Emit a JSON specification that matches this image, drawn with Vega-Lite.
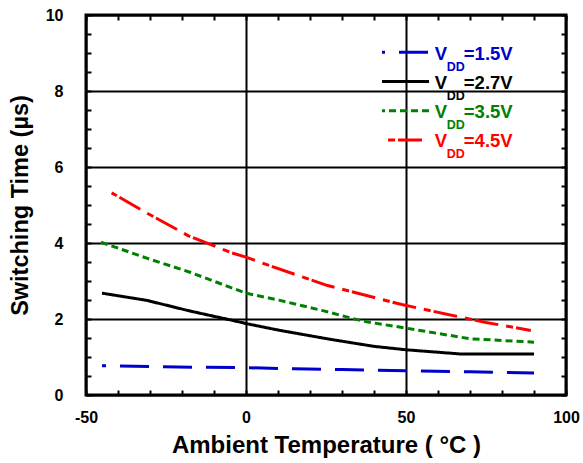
{
  "$schema": "https://vega.github.io/schema/vega-lite/v6.json",
  "width": 480,
  "height": 380,
  "autosize": "none",
  "padding": {"left": 86, "top": 15, "right": 17, "bottom": 68},
  "background": "white",
  "config": {
    "view": {"stroke": "black", "strokeWidth": 3},
    "font": "Liberation Sans"
  },
  "datasets": {
    "curves": [
      {"series": "1.5V", "t": -45, "v": 0.77},
      {"series": "1.5V", "t": -30, "v": 0.75},
      {"series": "1.5V", "t": -15, "v": 0.73},
      {"series": "1.5V", "t": 0, "v": 0.72},
      {"series": "1.5V", "t": 15, "v": 0.69},
      {"series": "1.5V", "t": 30, "v": 0.67},
      {"series": "1.5V", "t": 50, "v": 0.64},
      {"series": "1.5V", "t": 70, "v": 0.61},
      {"series": "1.5V", "t": 90, "v": 0.58},
      {"series": "2.7V", "t": -45, "v": 2.68},
      {"series": "2.7V", "t": -31, "v": 2.49},
      {"series": "2.7V", "t": -17.5, "v": 2.21},
      {"series": "2.7V", "t": -4, "v": 1.96},
      {"series": "2.7V", "t": 0, "v": 1.88},
      {"series": "2.7V", "t": 10.6, "v": 1.7},
      {"series": "2.7V", "t": 26, "v": 1.47},
      {"series": "2.7V", "t": 40, "v": 1.28},
      {"series": "2.7V", "t": 50, "v": 1.19},
      {"series": "2.7V", "t": 67, "v": 1.08},
      {"series": "2.7V", "t": 90, "v": 1.08},
      {"series": "3.5V", "t": -45.3, "v": 4.02},
      {"series": "3.5V", "t": -31, "v": 3.6},
      {"series": "3.5V", "t": -17.5, "v": 3.23},
      {"series": "3.5V", "t": -4.5, "v": 2.82},
      {"series": "3.5V", "t": 0, "v": 2.68},
      {"series": "3.5V", "t": 10.6, "v": 2.49},
      {"series": "3.5V", "t": 24, "v": 2.22},
      {"series": "3.5V", "t": 36.7, "v": 1.94},
      {"series": "3.5V", "t": 50, "v": 1.76},
      {"series": "3.5V", "t": 70, "v": 1.48},
      {"series": "3.5V", "t": 90, "v": 1.39},
      {"series": "4.5V", "t": -42, "v": 5.32},
      {"series": "4.5V", "t": -31, "v": 4.79},
      {"series": "4.5V", "t": -18, "v": 4.19},
      {"series": "4.5V", "t": -4.5, "v": 3.74},
      {"series": "4.5V", "t": 0, "v": 3.63},
      {"series": "4.5V", "t": 8.5, "v": 3.37},
      {"series": "4.5V", "t": 25.5, "v": 2.88},
      {"series": "4.5V", "t": 48.7, "v": 2.38},
      {"series": "4.5V", "t": 62, "v": 2.14},
      {"series": "4.5V", "t": 75, "v": 1.91},
      {"series": "4.5V", "t": 89, "v": 1.7}
    ],
    "legend": [
      {"series": "1.5V", "label": "=1.5V"},
      {"series": "2.7V", "label": "=2.7V"},
      {"series": "3.5V", "label": "=3.5V"},
      {"series": "4.5V", "label": "=4.5V"}
    ]
  },
  "layer": [
    {
      "data": {"name": "curves"},
      "transform": [{"filter": {"field": "series", "oneOf": ["1.5V", "2.7V"]}}],
      "mark": {"type": "line", "strokeWidth": 3, "strokeDashOffset": 25},
      "encoding": {
        "x": {"field": "t", "type": "quantitative", "scale": {"domain": [-50, 100], "nice": false},
          "axis": {"orient": "bottom", "values": [-50,-40,-30,-20,-10,0,10,20,30,40,50,60,70,80,90,100],
            "domain": false, "tickSize": -5, "tickWidth": 2, "tickColor": "black",
            "labelExpr": "datum.value % 50 === 0 ? '' + datum.value : ''", "labelOverlap": false, "labelFlush": false,
            "labelFont": "Liberation Sans", "labelFontSize": 16, "labelFontWeight": "bold", "labelColor": "black", "labelPadding": 19,
            "grid": true, "gridColor": "black", "gridWidth": 2,
            "gridOpacity": {"condition": {"test": "datum.value % 50 === 0", "value": 1}, "value": 0},
            "title": "Ambient Temperature ( °C )", "titleFont": "Liberation Sans", "titleFontSize": 24, "titleFontWeight": "bold", "titleColor": "black", "titlePadding": 8}},
        "y": {"field": "v", "type": "quantitative", "scale": {"domain": [0, 10], "nice": false},
          "axis": {"orient": "left", "values": [0,0.5,1,1.5,2,2.5,3,3.5,4,4.5,5,5.5,6,6.5,7,7.5,8,8.5,9,9.5,10],
            "domain": false, "tickSize": -5, "tickWidth": 2, "tickColor": "black",
            "labelExpr": "datum.value % 2 === 0 ? '' + datum.value : ''", "labelOverlap": false, "labelFlush": false,
            "labelFont": "Liberation Sans", "labelFontSize": 16, "labelFontWeight": "bold", "labelColor": "black", "labelPadding": 28,
            "grid": true, "gridColor": "black", "gridWidth": 2,
            "gridOpacity": {"condition": {"test": "datum.value % 2 === 0", "value": 1}, "value": 0},
            "title": "Switching Time (µs)", "titleFont": "Liberation Sans", "titleFontSize": 23.5, "titleFontWeight": "bold", "titleColor": "black", "titlePadding": 13}},
        "color": {"field": "series", "type": "nominal", "scale": {"domain": ["1.5V", "2.7V", "3.5V", "4.5V"], "range": ["#0000CC", "#000000", "#008000", "#FF0000"]}, "legend": null},
        "strokeDash": {"field": "series", "type": "nominal", "scale": {"domain": ["1.5V", "2.7V", "3.5V", "4.5V"], "range": [[29, 14], [1, 0], [7, 4], [24, 8, 7, 3]]}, "legend": null}
      }
    },
    {
      "data": {"name": "curves"},
      "transform": [{"filter": {"field": "series", "oneOf": ["3.5V", "4.5V"]}}],
      "mark": {"type": "line", "strokeWidth": 3, "strokeDashOffset": 33},
      "encoding": {
        "x": {"field": "t", "type": "quantitative", "scale": {"domain": [-50, 100], "nice": false},
          "axis": {"orient": "top", "values": [-50,-40,-30,-20,-10,0,10,20,30,40,50,60,70,80,90,100],
            "domain": false, "tickSize": -5, "tickWidth": 2, "tickColor": "black", "labels": false, "grid": false, "title": null}},
        "y": {"field": "v", "type": "quantitative", "scale": {"domain": [0, 10], "nice": false},
          "axis": {"orient": "right", "values": [0,0.5,1,1.5,2,2.5,3,3.5,4,4.5,5,5.5,6,6.5,7,7.5,8,8.5,9,9.5,10],
            "domain": false, "tickSize": -5, "tickWidth": 2, "tickColor": "black", "labels": false, "grid": false, "title": null}},
        "color": {"field": "series", "type": "nominal", "scale": {"domain": ["1.5V", "2.7V", "3.5V", "4.5V"], "range": ["#0000CC", "#000000", "#008000", "#FF0000"]}, "legend": null},
        "strokeDash": {"field": "series", "type": "nominal", "scale": {"domain": ["1.5V", "2.7V", "3.5V", "4.5V"], "range": [[29, 14], [1, 0], [7, 4], [24, 8, 7, 3]]}, "legend": null}
      }
    },
    {
      "data": {"name": "legend"},
      "transform": [{"filter": {"field": "series", "oneOf": ["1.5V", "2.7V"]}}],
      "mark": {"type": "rule", "strokeWidth": 3, "strokeDashOffset": 26},
      "encoding": {
        "x": {"datum": 42.5, "type": "quantitative", "axis": null},
        "x2": {"datum": 57.2},
        "y": {"field": "series", "type": "nominal", "scale": {"type": "point", "domain": ["1.5V", "2.7V", "3.5V", "4.5V", "pad1", "pad2", "pad3", "pad4", "pad5", "pad6", "pad7", "pad8"], "padding": 1, "align": 0.638}, "axis": null},
        "color": {"field": "series", "type": "nominal", "legend": null},
        "strokeDash": {"field": "series", "type": "nominal", "legend": null}
      }
    },
    {
      "data": {"name": "legend"},
      "transform": [{"filter": {"field": "series", "oneOf": ["3.5V", "4.5V"]}}],
      "mark": {"type": "rule", "strokeWidth": 3, "strokeDashOffset": 26},
      "encoding": {
        "x": {"datum": 42.5, "type": "quantitative", "axis": null},
        "x2": {"datum": 57.2},
        "y": {"field": "series", "type": "nominal", "scale": {"type": "point", "domain": ["1.5V", "2.7V", "3.5V", "4.5V", "pad1", "pad2", "pad3", "pad4", "pad5", "pad6", "pad7", "pad8"], "padding": 1, "align": 0.638}, "axis": null},
        "color": {"field": "series", "type": "nominal", "legend": null},
        "strokeDash": {"field": "series", "type": "nominal", "legend": null}
      }
    },
    {
      "data": {"name": "legend"},
      "mark": {"type": "text", "align": "left", "baseline": "alphabetic", "dy": 7.5, "font": "Liberation Sans", "fontSize": 18.5, "fontWeight": "bold"},
      "encoding": {
        "x": {"datum": 59, "type": "quantitative", "axis": null},
        "y": {"field": "series", "type": "nominal", "scale": {"type": "point", "domain": ["1.5V", "2.7V", "3.5V", "4.5V", "pad1", "pad2", "pad3", "pad4", "pad5", "pad6", "pad7", "pad8"], "padding": 1, "align": 0.638}, "axis": null},
        "text": {"value": "V"},
        "color": {"field": "series", "type": "nominal", "legend": null}
      }
    },
    {
      "data": {"name": "legend"},
      "mark": {"type": "text", "align": "left", "baseline": "alphabetic", "dx": 12, "dy": 18.4, "font": "Liberation Sans", "fontSize": 12.5, "fontWeight": "bold"},
      "encoding": {
        "x": {"datum": 59, "type": "quantitative", "axis": null},
        "y": {"field": "series", "type": "nominal", "scale": {"type": "point", "domain": ["1.5V", "2.7V", "3.5V", "4.5V", "pad1", "pad2", "pad3", "pad4", "pad5", "pad6", "pad7", "pad8"], "padding": 1, "align": 0.638}, "axis": null},
        "text": {"value": "DD"},
        "color": {"field": "series", "type": "nominal", "legend": null}
      }
    },
    {
      "data": {"name": "legend"},
      "mark": {"type": "text", "align": "left", "baseline": "alphabetic", "dx": 29, "dy": 7.5, "font": "Liberation Sans", "fontSize": 18.5, "fontWeight": "bold"},
      "encoding": {
        "x": {"datum": 59, "type": "quantitative", "axis": null},
        "y": {"field": "series", "type": "nominal", "scale": {"type": "point", "domain": ["1.5V", "2.7V", "3.5V", "4.5V", "pad1", "pad2", "pad3", "pad4", "pad5", "pad6", "pad7", "pad8"], "padding": 1, "align": 0.638}, "axis": null},
        "text": {"field": "label"},
        "color": {"field": "series", "type": "nominal", "legend": null}
      }
    }
  ],
  "resolve": {"scale": {"y": "independent"}, "axis": {"x": "independent", "y": "independent"}}
}
